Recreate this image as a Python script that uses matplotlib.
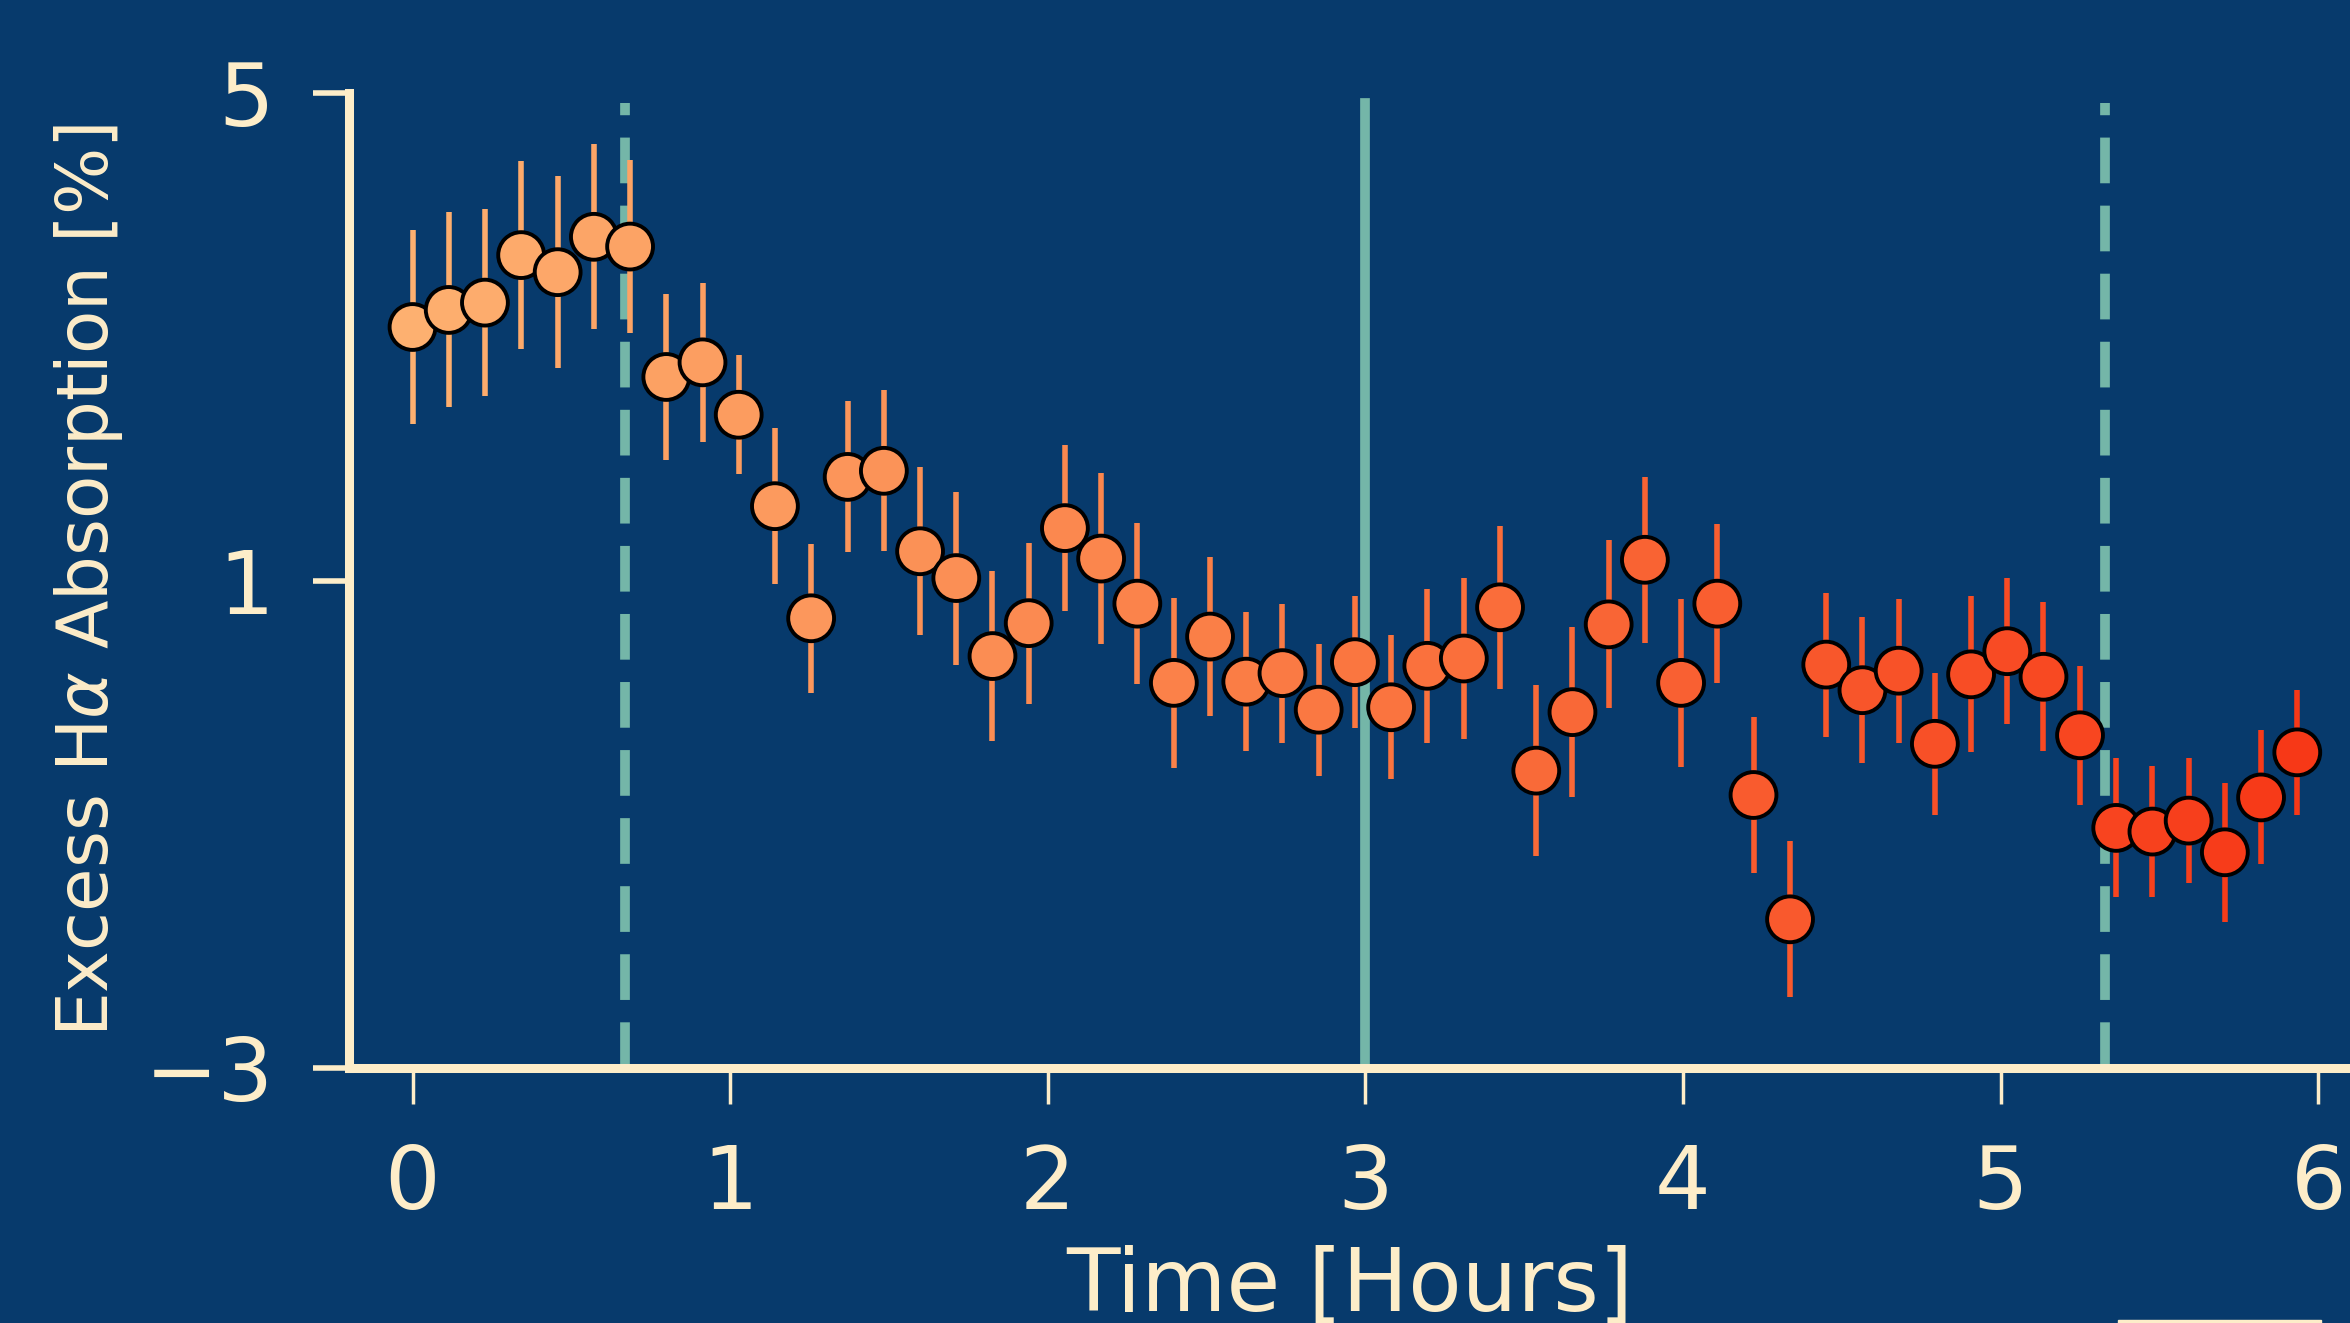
import numpy as np
import matplotlib
matplotlib.use("Agg")
import matplotlib.pyplot as plt
from matplotlib.colors import LinearSegmentedColormap
from matplotlib.patches import Rectangle

# time of each exposure [hours]
time_hr = [0.000, 0.114, 0.228, 0.342, 0.457, 0.571, 0.685, 0.799, 0.913, 1.027,
           1.141, 1.255, 1.370, 1.484, 1.598, 1.712, 1.826, 1.940, 2.054, 2.168,
           2.282, 2.397, 2.511, 2.625, 2.739, 2.853, 2.967, 3.081, 3.195, 3.310,
           3.424, 3.538, 3.652, 3.766, 3.880, 3.994, 4.108, 4.222, 4.337, 4.451,
           4.565, 4.679, 4.793, 4.907, 5.021, 5.135, 5.250, 5.364, 5.478, 5.592,
           5.706, 5.820, 5.934]

# excess H-alpha absorption [%]
absorption = [3.08, 3.22, 3.28, 3.67, 3.53, 3.82, 3.74, 2.67, 2.79, 2.36,
              1.61, 0.69, 1.85, 1.90, 1.24, 1.02, 0.38, 0.65, 1.43, 1.18,
              0.81, 0.16, 0.54, 0.17, 0.24, -0.06, 0.33, -0.04, 0.30, 0.36,
              0.78, -0.56, -0.08, 0.64, 1.17, 0.16, 0.81, -0.76, -1.78, 0.31,
              0.10, 0.26, -0.34, 0.23, 0.42, 0.21, -0.27, -1.03, -1.06, -0.97,
              -1.23, -0.78, -0.41]

abs_err = [0.80, 0.80, 0.77, 0.77, 0.79, 0.76, 0.71, 0.68, 0.65, 0.49,
           0.64, 0.61, 0.62, 0.66, 0.69, 0.71, 0.70, 0.66, 0.68, 0.70,
           0.66, 0.70, 0.65, 0.57, 0.57, 0.54, 0.54, 0.59, 0.63, 0.66,
           0.67, 0.70, 0.70, 0.69, 0.68, 0.69, 0.65, 0.64, 0.64, 0.59,
           0.60, 0.59, 0.58, 0.64, 0.60, 0.61, 0.57, 0.57, 0.54, 0.51,
           0.57, 0.55, 0.51]

# transit contact times [hours]
ingress = 0.67
mid_transit = 3.0
egress = 5.33

x_ticks = [0, 1, 2, 3, 4, 5, 6]
y_ticks = [-3, 1, 5]

bg = "#073a6c"
cream = "#fdedc9"
teal = "#74b6a8"

plt.rcParams["font.family"] = ["DejaVu Sans"]

fig = plt.figure(figsize=(23.5, 13.23), dpi=100, facecolor=bg)
ax = fig.add_axes([349 / 2350, 255 / 1323, 2001 / 2350, 975 / 1323])
ax.set_facecolor(bg)

cmap = LinearSegmentedColormap.from_list("pts", ["#fdb070", "#fa7640", "#f73817"])
cols = cmap(np.linspace(0, 1, len(time_hr)))

ax.axvline(ingress, color=teal, lw=7, dashes=(4.7, 2.3), ymax=0.99, zorder=1)
ax.axvline(egress, color=teal, lw=7, dashes=(4.7, 2.3), ymax=0.99, zorder=1)
ax.axvline(mid_transit, color=teal, lw=7, ymax=0.99, zorder=1)

t = np.array(time_hr)
y = np.array(absorption)
e = np.array(abs_err)
ax.vlines(t, y - e, y + e, colors=cols, lw=4, zorder=2)
ax.scatter(t, y, s=33 ** 2, c=cols, edgecolors="black", linewidths=2.8, zorder=3)

ax.set_xlim(-0.2, 6.1)
ax.set_ylim(-3, 5)
ax.set_xticks(x_ticks)
ax.set_yticks(y_ticks)
ax.set_yticklabels(["\u22123", "1", "5"])

for s in ["top", "right"]:
    ax.spines[s].set_visible(False)
for s in ["left", "bottom"]:
    ax.spines[s].set_color(cream)
    ax.spines[s].set_linewidth(6.5)

ax.tick_params(colors=cream, labelsize=63, length=26, width=2.5, pad=28)
ax.tick_params(axis="y", width=4)

ax.set_xlabel("Time [Hours]", color=cream, fontsize=63, labelpad=13)
ax.set_ylabel(r"Excess H$\alpha$ Absorption [%]", color=cream, fontsize=51, labelpad=14)

# bit of a panel edge peeking in at the bottom right
fig.patches.append(Rectangle((2118 / 2350, 0), 203 / 2350, 3 / 1323,
                             transform=fig.transFigure, color=cream, zorder=5))

fig.savefig("out.png", dpi=100, facecolor=bg)
